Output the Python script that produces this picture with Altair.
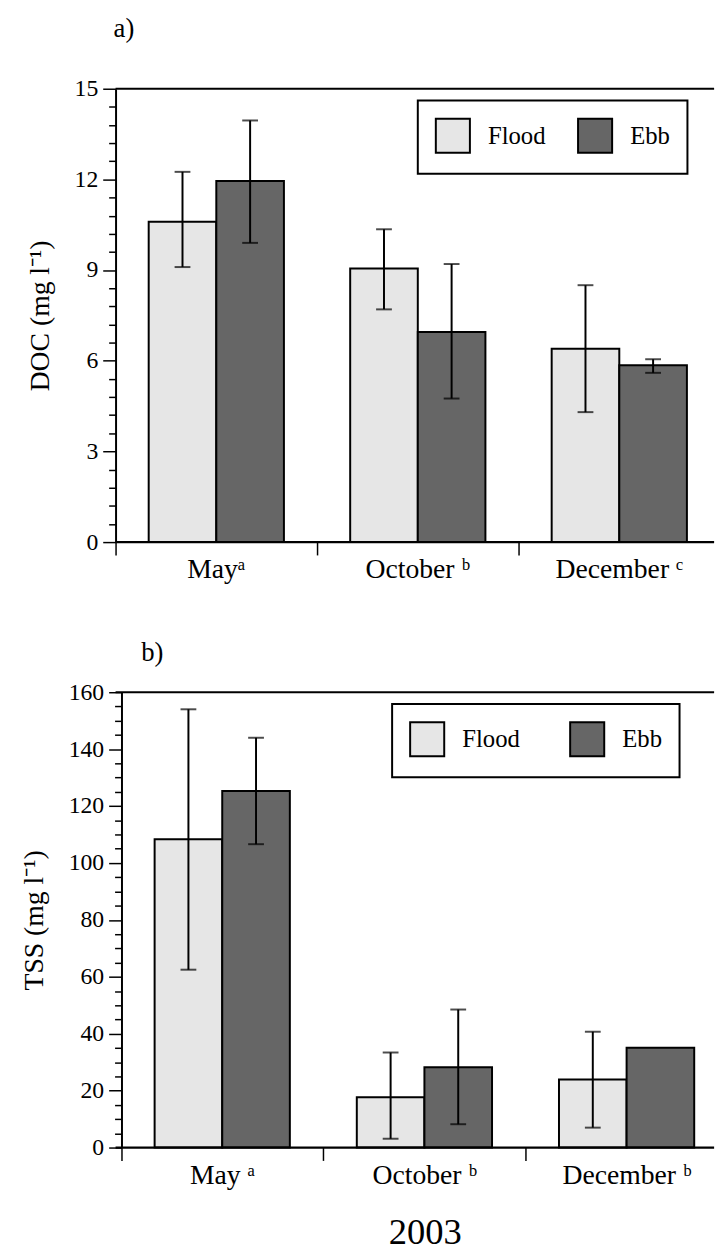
import altair as alt
import pandas as pd

FONT = "Liberation Serif"

tides = ["Flood", "Ebb"]
tide_colors = ["#e6e6e6", "#666666"]

# a) DOC (mg l-1)
doc_months = ["May\u1d43", "October \u1d47", "December \u1d9c"]
doc_flood_mean = [10.6, 9.05, 6.4]
doc_flood_low = [9.1, 7.7, 4.3]
doc_flood_high = [12.25, 10.35, 8.5]
doc_ebb_mean = [11.95, 6.95, 5.85]
doc_ebb_low = [9.9, 4.75, 5.6]
doc_ebb_high = [13.95, 9.2, 6.05]
doc_major = [0, 3, 6, 9, 12, 15]

# b) TSS (mg l-1)
tss_months = ["May \u1d43", "October \u1d47", "December \u1d47"]
tss_flood_mean = [108.3, 17.7, 23.9]
tss_flood_low = [62.5, 3.1, 7.0]
tss_flood_high = [154.0, 33.4, 40.7]
tss_ebb_mean = [125.3, 28.2, 35.1]
tss_ebb_low = [106.6, 8.2, None]
tss_ebb_high = [144.0, 48.5, None]
tss_major = [0, 20, 40, 60, 80, 100, 120, 140, 160]

doc_ticks = [round(i * 0.6, 1) for i in range(26)]
tss_ticks = [i * 5 for i in range(33)]


def table(months, fm, fl, fh, em, el, eh):
    rows = []
    for i, m in enumerate(months):
        rows.append(dict(month=m, tide="Flood", value=fm[i], low=fl[i], high=fh[i]))
        rows.append(dict(month=m, tide="Ebb", value=em[i], low=el[i], high=eh[i]))
    return pd.DataFrame(rows)


def panel(df, months, ymax, ticks, step, ytitle, label, title_dx, title_offset,
          xtitle, legend_x, col_pad, x0, band, axis_offset, height):
    cond = f"abs(datum.value / {step} - round(datum.value / {step})) < 0.001"
    x_scale = alt.Scale(domain=months, range=[x0, x0 + 3 * band],
                        paddingInner=0, paddingOuter=0)
    x_axis = alt.Axis(
        title=xtitle, labelAngle=0, domain=False, bandPosition=0, tickExtra=False,
        tickSize=13, tickWidth=1.5, tickColor="black",
        labelFont=FONT, labelFontSize=28, labelColor="black", labelPadding=1,
        labelOverlap=False, labelLimit=300,
        titleFont=FONT, titleFontSize=37, titleFontWeight="normal",
        titleColor="black", titlePadding=26,
    )
    y_scale = alt.Scale(domain=[0, ymax], nice=False, zero=True)
    y_axis = alt.Axis(
        title=ytitle, values=ticks, grid=False,
        tickSize={"condition": {"test": cond, "value": 13}, "value": 7},
        labelExpr=f"{cond} ? '' + round(datum.value) : ''",
        domainColor="black", domainWidth=2, tickColor="black", tickWidth=1.5,
        labelFont=FONT, labelFontSize=24, labelColor="black", labelPadding=5,
        titleFont=FONT, titleFontSize=28, titleFontWeight="normal",
        titleColor="black", titlePadding=20, offset=axis_offset,
    )
    off_scale = alt.Scale(domain=tides, paddingInner=0, paddingOuter=0.49)

    def xenc():
        return alt.X("month:N", sort=months, scale=x_scale, axis=x_axis)

    def xoff():
        return alt.XOffset("tide:N", sort=tides, scale=off_scale)

    bars = alt.Chart(df).mark_bar(stroke="black", strokeWidth=2).encode(
        x=xenc(),
        xOffset=xoff(),
        y=alt.Y("value:Q", scale=y_scale, axis=y_axis),
        fill=alt.Fill(
            "tide:N", sort=tides,
            scale=alt.Scale(domain=tides, range=tide_colors),
            legend=alt.Legend(
                title=None, orient="none", legendX=legend_x, legendY=12,
                direction="horizontal", symbolType="square", symbolSize=1190,
                symbolStrokeColor="black", symbolStrokeWidth=2, symbolOpacity=1,
                labelFont=FONT, labelFontSize=25, labelColor="black",
                labelOffset=17, columnPadding=col_pad, padding=17,
                strokeColor="black", fillColor="white",
            ),
        ),
    )
    err_df = df.dropna(subset=["low", "high"])
    rules = alt.Chart(err_df).mark_rule(color="black", strokeWidth=2).encode(
        x=xenc(), xOffset=xoff(),
        y=alt.Y("low:Q", scale=y_scale, axis=y_axis), y2="high:Q",
    )
    caps = alt.Chart(err_df).transform_fold(
        ["low", "high"], as_=["end", "v"]
    ).mark_tick(color="black", thickness=2, size=16, orient="horizontal").encode(
        x=xenc(), xOffset=xoff(),
        y=alt.Y("v:Q", scale=y_scale, axis=y_axis),
    )
    frame = alt.Chart(pd.DataFrame({"edge": [0, ymax]})).mark_rule(
        color="black", strokeWidth=2.2
    ).encode(y=alt.Y("edge:Q", scale=y_scale, axis=y_axis))

    return alt.layer(bars, rules, caps, frame).properties(
        width=606, height=height,
        title=alt.TitleParams(
            label, anchor="start", frame="group", dx=title_dx, offset=title_offset,
            font=FONT, fontSize=27, fontWeight="normal", color="black",
        ),
    )


doc_df = table(doc_months, doc_flood_mean, doc_flood_low, doc_flood_high,
               doc_ebb_mean, doc_ebb_low, doc_ebb_high)
tss_df = table(tss_months, tss_flood_mean, tss_flood_low, tss_flood_high,
               tss_ebb_mean, tss_ebb_low, tss_ebb_high)

top = panel(doc_df, doc_months, 15, doc_ticks, 3, "DOC (mg l\u207b\u00b9)", "a)",
            -2, 34, None, 306, 28, 0, 204, 0, 459)
bottom = panel(tss_df, tss_months, 160, tss_ticks, 20, "TSS (mg l\u207b\u00b9)", "b)",
               26, 14, "2003", 280, 46, 6, 204.7, -6, 461)

chart = alt.vconcat(top, bottom, spacing=152, bounds="flush").resolve_scale(
    fill="independent"
).properties(
    padding={"left": 21, "top": 8, "right": 0, "bottom": 2},
    background="white",
).configure_view(stroke=None).configure_legend(strokeWidth=2)

chart.save("out.html", embed_options={"renderer": "svg", "actions": False})
